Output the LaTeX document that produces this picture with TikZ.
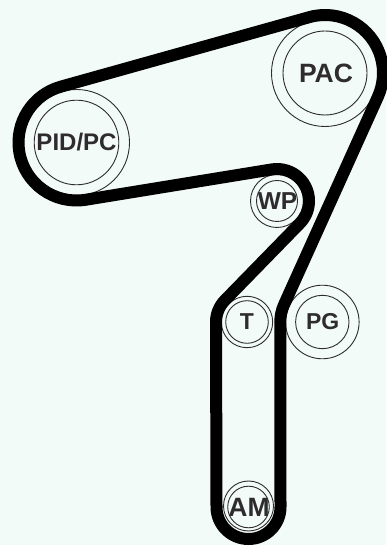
\documentclass[tikz,border=0pt]{standalone}
\usepackage{fontspec}
\setmainfont{Liberation Sans}
\definecolor{bgmint}{HTML}{F2FBF7}
\definecolor{inkgray}{HTML}{2E2C2E}
\tikzset{
  x=1pt,y=1pt,
  ring/.style={draw=inkgray,line width=0.9pt},
  pulleylabel/.style={inner sep=0pt,text=inkgray,font=\bfseries},
  beltline/.style={draw=black,line width=12pt,line join=round}
}
\newcommand{\lbl}[1]{\fontsize{#1}{#1}\selectfont\bfseries}
\begin{document}
\begin{tikzpicture}
\useasboundingbox (0,0) rectangle (386,545);
\fill[bgmint] (0,0) rectangle (386,545);
\node[pulleylabel,font=\lbl{24}] (pid) at (76.5,402.5) {PID/PC};
\node[pulleylabel,font=\lbl{26.5}] (pac) at (326,472) {PAC};
\coordinate (pacc) at (325,472);
\node[pulleylabel,font=\lbl{24.5}] (wp)  at (277.5,344) {WP};
\coordinate (wpc) at (277,344);
\node[pulleylabel,font=\lbl{23}]   (tn)  at (247,223) {T};
\node[pulleylabel,font=\lbl{23}]   (pg)  at (322.7,223) {PG};
\coordinate (pgc) at (322.3,223);
\node[pulleylabel,font=\lbl{26.5}] (am)  at (249,38) {AM};
\coordinate (amc) at (248.5,38);
\draw[ring] (pid.center) circle[radius=42.3] (pid.center) circle[radius=53];
\draw[ring] (pacc) circle[radius=42] (pacc) circle[radius=53.5];
\draw[ring] (wpc) circle[radius=20.5] (wpc) circle[radius=26.5];
\draw[ring] (tn.center) circle[radius=21.3] (tn.center) circle[radius=25.7];
\draw[ring] (pgc) circle[radius=26.7] (pgc) circle[radius=36.8];
\draw[ring] (amc) circle[radius=20.8] ([yshift=1pt]amc) circle[radius=25];
\draw[beltline]
  ([shift={(105.63:58pt)}]pid.center) -- ([shift={(105.63:58pt)}]pacc)
  arc[start angle=105.63,end angle=-24.37,radius=58pt]
  -- ([shift={(155.63:42pt)}]pgc)
  arc[start angle=155.63,end angle=180,radius=42pt]
  -- ([shift={(0:32pt)}]amc)
  arc[start angle=0,end angle=-180,radius=32pt]
  -- ([shift={(180:31pt)}]tn.center)
  arc[start angle=180,end angle=135.71,radius=31pt]
  -- ([shift={(-44.29:32pt)}]wpc)
  arc[start angle=-44.29,end angle=99.26,radius=32pt]
  -- ([shift={(-80.74:58pt)}]pid.center)
  arc[start angle=-80.74,end angle=-254.37,radius=58pt]
  -- cycle;
\end{tikzpicture}
\end{document}
